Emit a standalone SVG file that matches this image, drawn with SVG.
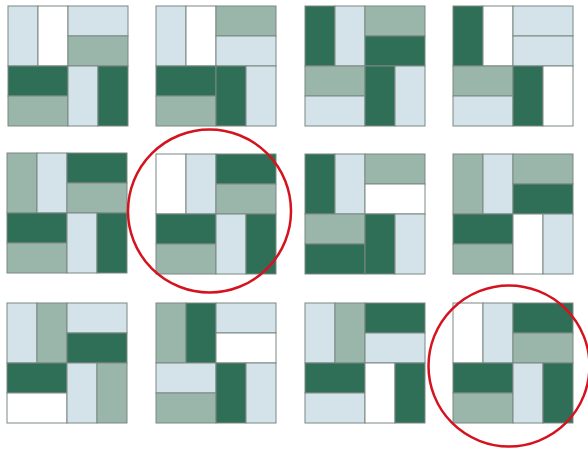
<svg xmlns="http://www.w3.org/2000/svg" width="588" height="450" viewBox="0 0 588 450">
<style>
rect{stroke:#7a8882;stroke-width:1}
.d{fill:#2f6f57}.m{fill:#9ab6ab}.l{fill:#d4e3e9}.w{fill:#ffffff}
.ring{fill:none;stroke:#d4131f;stroke-width:2.5}
</style>
<g id="sq1" transform="translate(8,6)">
<rect class="l" x="0" y="0" width="30" height="60"/><rect class="w" x="30" y="0" width="30" height="60"/><rect class="l" x="60" y="0" width="60" height="30"/><rect class="m" x="60" y="30" width="60" height="30"/><rect class="d" x="0" y="60" width="60" height="30"/><rect class="m" x="0" y="90" width="60" height="30"/><rect class="l" x="60" y="60" width="30" height="60"/><rect class="d" x="90" y="60" width="30" height="60"/>
</g>
<g id="sq2" transform="translate(156,6)">
<rect class="l" x="0" y="0" width="30" height="60"/><rect class="w" x="30" y="0" width="30" height="60"/><rect class="m" x="60" y="0" width="60" height="30"/><rect class="l" x="60" y="30" width="60" height="30"/><rect class="d" x="0" y="60" width="60" height="30"/><rect class="m" x="0" y="90" width="60" height="30"/><rect class="d" x="60" y="60" width="30" height="60"/><rect class="l" x="90" y="60" width="30" height="60"/>
</g>
<g id="sq3" transform="translate(305,6)">
<rect class="d" x="0" y="0" width="30" height="60"/><rect class="l" x="30" y="0" width="30" height="60"/><rect class="m" x="60" y="0" width="60" height="30"/><rect class="d" x="60" y="30" width="60" height="30"/><rect class="m" x="0" y="60" width="60" height="30"/><rect class="l" x="0" y="90" width="60" height="30"/><rect class="d" x="60" y="60" width="30" height="60"/><rect class="l" x="90" y="60" width="30" height="60"/>
</g>
<g id="sq4" transform="translate(453,6)">
<rect class="d" x="0" y="0" width="30" height="60"/><rect class="w" x="30" y="0" width="30" height="60"/><rect class="l" x="60" y="0" width="60" height="30"/><rect class="l" x="60" y="30" width="60" height="30"/><rect class="m" x="0" y="60" width="60" height="30"/><rect class="l" x="0" y="90" width="60" height="30"/><rect class="d" x="60" y="60" width="30" height="60"/><rect class="w" x="90" y="60" width="30" height="60"/>
</g>
<g id="sq5" transform="translate(7,153)">
<rect class="m" x="0" y="0" width="30" height="60"/><rect class="l" x="30" y="0" width="30" height="60"/><rect class="d" x="60" y="0" width="60" height="30"/><rect class="m" x="60" y="30" width="60" height="30"/><rect class="d" x="0" y="60" width="60" height="30"/><rect class="m" x="0" y="90" width="60" height="30"/><rect class="l" x="60" y="60" width="30" height="60"/><rect class="d" x="90" y="60" width="30" height="60"/>
</g>
<g id="sq6" transform="translate(156,154)">
<rect class="w" x="0" y="0" width="30" height="60"/><rect class="l" x="30" y="0" width="30" height="60"/><rect class="d" x="60" y="0" width="60" height="30"/><rect class="m" x="60" y="30" width="60" height="30"/><rect class="d" x="0" y="60" width="60" height="30"/><rect class="m" x="0" y="90" width="60" height="30"/><rect class="l" x="60" y="60" width="30" height="60"/><rect class="d" x="90" y="60" width="30" height="60"/>
</g>
<g id="sq7" transform="translate(305,154)">
<rect class="d" x="0" y="0" width="30" height="60"/><rect class="l" x="30" y="0" width="30" height="60"/><rect class="m" x="60" y="0" width="60" height="30"/><rect class="w" x="60" y="30" width="60" height="30"/><rect class="m" x="0" y="60" width="60" height="30"/><rect class="d" x="0" y="90" width="60" height="30"/><rect class="d" x="60" y="60" width="30" height="60"/><rect class="l" x="90" y="60" width="30" height="60"/>
</g>
<g id="sq8" transform="translate(453,154)">
<rect class="m" x="0" y="0" width="30" height="60"/><rect class="l" x="30" y="0" width="30" height="60"/><rect class="m" x="60" y="0" width="60" height="30"/><rect class="d" x="60" y="30" width="60" height="30"/><rect class="d" x="0" y="60" width="60" height="30"/><rect class="m" x="0" y="90" width="60" height="30"/><rect class="w" x="60" y="60" width="30" height="60"/><rect class="l" x="90" y="60" width="30" height="60"/>
</g>
<g id="sq9" transform="translate(7,303)">
<rect class="l" x="0" y="0" width="30" height="60"/><rect class="m" x="30" y="0" width="30" height="60"/><rect class="l" x="60" y="0" width="60" height="30"/><rect class="d" x="60" y="30" width="60" height="30"/><rect class="d" x="0" y="60" width="60" height="30"/><rect class="w" x="0" y="90" width="60" height="30"/><rect class="l" x="60" y="60" width="30" height="60"/><rect class="m" x="90" y="60" width="30" height="60"/>
</g>
<g id="sq10" transform="translate(156,303)">
<rect class="m" x="0" y="0" width="30" height="60"/><rect class="d" x="30" y="0" width="30" height="60"/><rect class="l" x="60" y="0" width="60" height="30"/><rect class="w" x="60" y="30" width="60" height="30"/><rect class="l" x="0" y="60" width="60" height="30"/><rect class="m" x="0" y="90" width="60" height="30"/><rect class="d" x="60" y="60" width="30" height="60"/><rect class="l" x="90" y="60" width="30" height="60"/>
</g>
<g id="sq11" transform="translate(305,303)">
<rect class="l" x="0" y="0" width="30" height="60"/><rect class="m" x="30" y="0" width="30" height="60"/><rect class="d" x="60" y="0" width="60" height="30"/><rect class="l" x="60" y="30" width="60" height="30"/><rect class="d" x="0" y="60" width="60" height="30"/><rect class="l" x="0" y="90" width="60" height="30"/><rect class="w" x="60" y="60" width="30" height="60"/><rect class="d" x="90" y="60" width="30" height="60"/>
</g>
<g id="sq12" transform="translate(453,303)">
<rect class="w" x="0" y="0" width="30" height="60"/><rect class="l" x="30" y="0" width="30" height="60"/><rect class="d" x="60" y="0" width="60" height="30"/><rect class="m" x="60" y="30" width="60" height="30"/><rect class="d" x="0" y="60" width="60" height="30"/><rect class="m" x="0" y="90" width="60" height="30"/><rect class="l" x="60" y="60" width="30" height="60"/><rect class="d" x="90" y="60" width="30" height="60"/>
</g>
<g id="circles">
<circle class="ring" cx="209.5" cy="211" r="81.5"/>
<circle class="ring" cx="509" cy="366" r="80.5"/>
</g>
</svg>
